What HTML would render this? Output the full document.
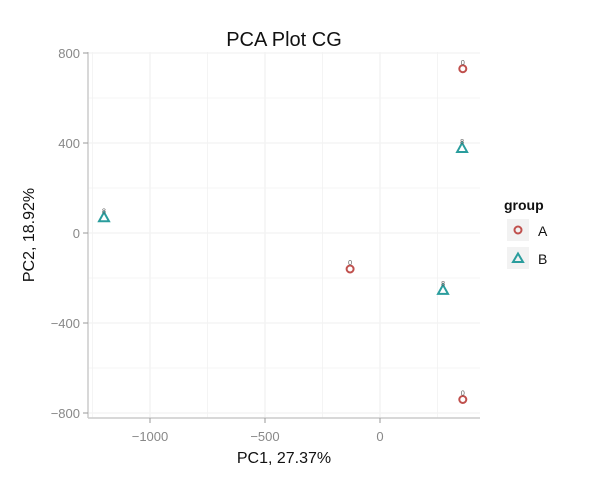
<!DOCTYPE html>
<html><head><meta charset="utf-8"><style>
body{margin:0;background:#fff;font-family:"Liberation Sans",sans-serif}
</style></head><body>
<svg id="c" width="600" height="480" xmlns="http://www.w3.org/2000/svg">
<text x="284" y="46" font-size="20" text-anchor="middle" fill="#111">PCA Plot CG</text>
<g id="grid"></g>
<g id="axes"></g>
<g id="pts"></g>
<text x="284" y="463" font-size="16" text-anchor="middle" fill="#111">PC1, 27.37%</text>
<text x="0" y="0" font-size="16" text-anchor="middle" fill="#111" transform="translate(34,235) rotate(-90)">PC2, 18.92%</text>
<g>
<text x="504" y="210" font-size="14" font-weight="bold" fill="#111">group</text>
<rect x="507" y="219" width="22" height="22" fill="#f2f2f2"/>
<circle cx="518" cy="230" r="3.5" fill="none" stroke="#c0504d" stroke-width="2"/>
<text x="538" y="236" font-size="14" fill="#111">A</text>
<rect x="507" y="247" width="22" height="22" fill="#f2f2f2"/>
<polygon points="518,253.5 523,262 513,262" fill="none" stroke="#2a9d9d" stroke-width="2"/>
<text x="538" y="264" font-size="14" fill="#111">B</text>
</g>
</svg>
<script>
const groups=["A","A","A","B","B","B"];
const pc1=[360,-130,360,-1200,274,357];
const pc2=[730,-160,-740,70,-253,378];
const xTicks=[-1000,-500,0];
const yTicks=[800,400,0,-400,-800];
const X0=88,X1=480,Y0=52,Y1=418;
const sx=v=>380+v*0.23, sy=v=>233-v*0.225;
const NS="http://www.w3.org/2000/svg";
function mk(tag,attrs,parent){const e=document.createElementNS(NS,tag);for(const k in attrs)e.setAttribute(k,attrs[k]);parent.appendChild(e);return e;}
const grid=document.getElementById('grid'),axes=document.getElementById('axes'),pts=document.getElementById('pts');
for(let v=-1250;v<=500;v+=250){const x=sx(v);if(x<X0||x>X1)continue;const l=mk('line',{x1:x,x2:x,y1:Y0,y2:Y1,stroke:'#f2f2f2','stroke-width':v%500===0?1.3:0.8},grid);

}
for(let v=-800;v<=800;v+=200){const y=sy(v);const l=mk('line',{x1:X0,x2:X1,y1:y,y2:y,stroke:'#f2f2f2','stroke-width':v%400===0?1.3:0.8},grid);

}
const bx=mk('line',{x1:X0,x2:X1,y1:Y1,y2:Y1,stroke:'#ccc','stroke-width':1.5},axes);


const by=mk('line',{x1:X0,x2:X0,y1:Y0,y2:Y1,stroke:'#ccc','stroke-width':1.5},axes);


xTicks.forEach(v=>{const x=sx(v);mk('line',{x1:x,x2:x,y1:Y1,y2:Y1+5,stroke:'#999'},axes);
const t=mk('text',{x:x,y:Y1+23,'font-size':13,'text-anchor':'middle',fill:'#888'},axes);t.textContent=String(v).replace('-','\u2212');

});
yTicks.forEach(v=>{const y=sy(v);mk('line',{x1:X0-5,x2:X0,y1:y,y2:y,stroke:'#999'},axes);
const t=mk('text',{x:X0-8,y:y+5,'font-size':13,'text-anchor':'end',fill:'#888'},axes);t.textContent=String(v).replace('-','\u2212');

});
groups.forEach((g,i)=>{const x=sx(pc1[i]),y=sy(pc2[i]);let e;
if(g==="A"){e=mk('circle',{cx:x,cy:y,r:3.5,fill:'none',stroke:'#c0504d','stroke-width':2},pts);}
else{e=mk('polygon',{points:`${x},${y-5} ${x+5},${y+4} ${x-5},${y+4}`,fill:'none',stroke:'#2a9d9d','stroke-width':2},pts);}


const lb=mk('text',{x:x,y:y-4,'font-size':7,'text-anchor':'middle',fill:'#555'},pts);lb.textContent=g==="A"?"0":"8";

});
</script>
</body></html>
